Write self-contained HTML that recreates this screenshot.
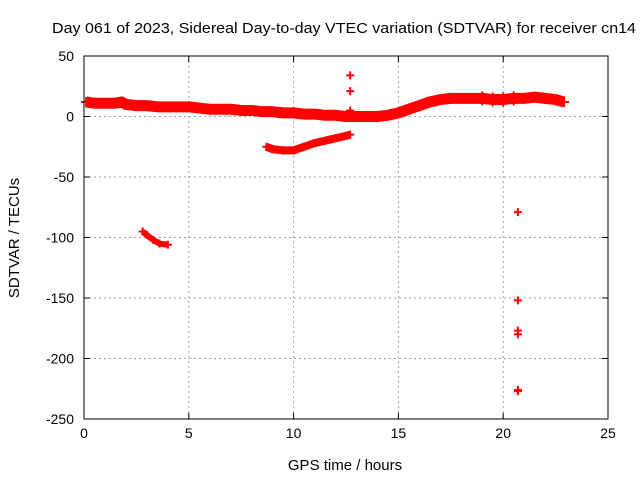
<!DOCTYPE html>
<html><head><meta charset="utf-8"><style>
body{margin:0;background:#fff;}
svg{display:block;font-family:"Liberation Sans",sans-serif;}
</style></head><body>
<svg id="chart" width="640" height="480" viewBox="0 0 640 480">
<text x="344" y="33" text-anchor="middle" font-size="15" textLength="584" lengthAdjust="spacingAndGlyphs">Day 061 of 2023, Sidereal Day-to-day VTEC variation (SDTVAR) for receiver cn14</text>
<text x="345" y="470" text-anchor="middle" font-size="15">GPS time / hours</text>
<text transform="translate(19,238) rotate(-90)" text-anchor="middle" font-size="15">SDTVAR / TECUs</text>
<g id="grid"></g><g id="series"></g><g id="axes"></g>
</svg>
<script>
const xTicks=[0,5,10,15,20,25];
const yTicks=[50,0,-50,-100,-150,-200,-250];
const bandT=[0.1,0.5,1,1.5,1.8,2,2.5,3,3.5,4,4.5,5,5.5,6,6.5,7,7.5,8,8.5,9,9.5,10,10.5,11,11.5,12,12.5,12.7,13,13.5,14,14.5,15,15.5,16,16.5,17,17.5,18,18.5,19,19.5,20,20.5,21,21.5,22,22.5,22.9];
const bandV=[12,11,11,11,12,10,9,9,8,8,8,8,7,6,6,6,5,5,4,4,3,3,2,2,1,1,0,0,0,0,0,1,3,6,9,12,14,15,15,15,15,14,14,15,15,16,15,14,12,11];
const arcT=[8.7,9,9.5,10,10.5,11,11.5,12,12.5,12.7];
const arcV=[-25,-27,-28,-28,-25,-22,-20,-18,-16,-15];
const lowT=[2.8,3,3.3,3.6,4];
const lowV=[-95,-98,-102,-105,-106];
const outT=[12.7,12.7,12.7,20.7,20.7,20.7,20.7,20.7,20.7];
const outV=[34,21,5,-79,-152,-177,-180,-226,-227];
const X0=84,X1=608,Y0=56,Y1=419;
const xs=t=>X0+(t-0)/25*(X1-X0);
const ys=v=>Y0+(50-v)/300*(Y1-Y0);
const NS="http://www.w3.org/2000/svg";
function mk(tag,parent,at){const e=document.createElementNS(NS,tag);for(const k in at)e.setAttribute(k,at[k]);parent.appendChild(e);return e;}
const grid=document.getElementById('grid'),axes=document.getElementById('axes'),ser=document.getElementById('series');
xTicks.forEach(t=>{
 if(t>0&&t<25){const l=mk('line',grid,{x1:xs(t),x2:xs(t),y1:Y0,y2:Y1,stroke:'#a0a0a0','stroke-dasharray':'2,3'});
 }
 mk('line',axes,{x1:xs(t),x2:xs(t),y1:Y1,y2:Y1-6,stroke:'#000'});
 mk('line',axes,{x1:xs(t),x2:xs(t),y1:Y0,y2:Y0+6,stroke:'#000'});
 const tx=mk('text',axes,{x:xs(t),y:Y1+19,'text-anchor':'middle','font-size':'14'});tx.textContent=t;
 
});
yTicks.forEach(v=>{
 if(v<50&&v>-250){const l=mk('line',grid,{x1:X0,x2:X1,y1:ys(v),y2:ys(v),stroke:'#a0a0a0','stroke-dasharray':'2,3'});
 }
 mk('line',axes,{x1:X0,x2:X0+6,y1:ys(v),y2:ys(v),stroke:'#000'});
 mk('line',axes,{x1:X1,x2:X1-6,y1:ys(v),y2:ys(v),stroke:'#000'});
 const tx=mk('text',axes,{x:X0-10,y:ys(v)+5,'text-anchor':'end','font-size':'14'});tx.textContent=v;
 
});
const fr=mk('rect',axes,{x:X0,y:Y0,width:X1-X0,height:Y1-Y0,fill:'none',stroke:'#000'});

function line(T,V,w,name){
 const p=mk('polyline',ser,{points:T.map((t,i)=>xs(t)+','+ys(V[i])).join(' '),fill:'none',stroke:'#f00','stroke-width':w,'stroke-linejoin':'round'});
 
}
function plus(t,v,s){
 const g=mk('path',ser,{d:`M${xs(t)-s},${ys(v)}h${2*s}M${xs(t)},${ys(v)-s}v${2*s}`,stroke:'#f00','stroke-width':2});
 
}
line(bandT,bandV,11,'main-band-series');
line(arcT,arcV,8,'arc-series');
line(lowT,lowV,6,'low-arc-series');
bandT.forEach((t,i)=>plus(t,bandV[i],5+(t>18.5&&t<21?2:0)));
arcT.forEach((t,i)=>plus(t,arcV[i],4));
lowT.forEach((t,i)=>plus(t,lowV[i],4));
outT.forEach((t,i)=>plus(t,outV[i],4));
</script>
</body></html>
